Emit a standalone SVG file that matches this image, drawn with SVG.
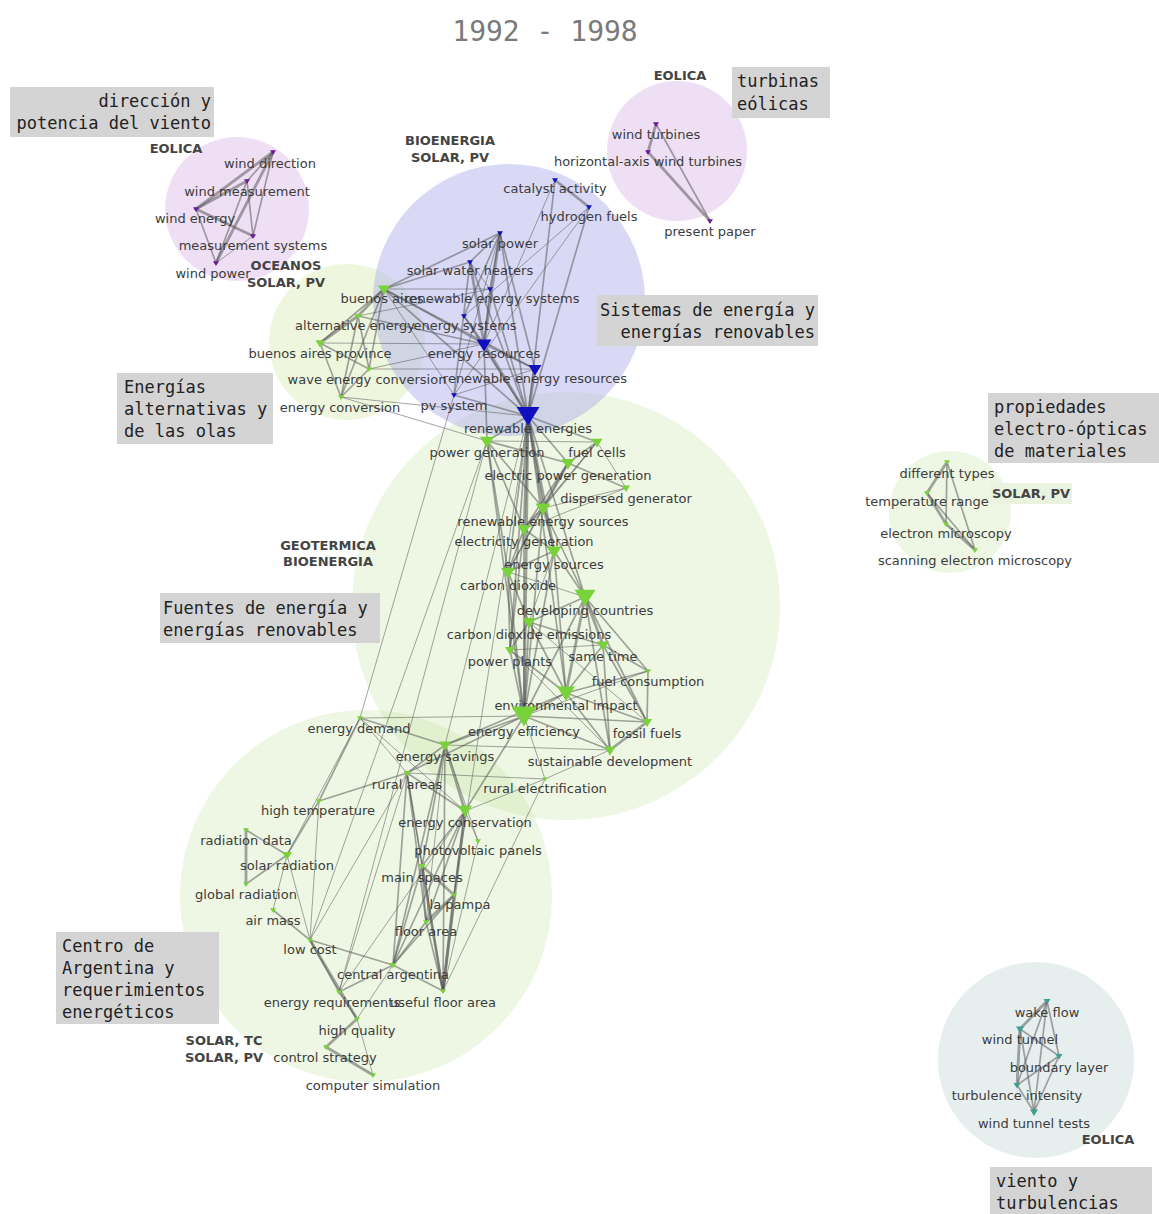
<svg xmlns="http://www.w3.org/2000/svg" xmlns:xlink="http://www.w3.org/1999/xlink" width="1159" height="1214" viewBox="0 0 1159 1214">
<style>
.title{font-family:"DejaVu Sans Mono","Liberation Mono",monospace;font-size:28px;fill:#7a7a7a}
.box{fill:#d4d4d4}
.bt{font-family:"DejaVu Sans Mono","Liberation Mono",monospace;font-size:17px;fill:#222}
.cat{font-family:"DejaVu Sans","Liberation Sans",sans-serif;font-size:13px;font-weight:bold;fill:#444;text-anchor:middle}
.lb{font-family:"DejaVu Sans","Liberation Sans",sans-serif;font-size:13px;fill:#3c3c3c;text-anchor:middle}
.e line{stroke:#555;stroke-opacity:0.52;stroke-linecap:round}
.t{stroke-width:1}
.m{stroke-width:1.7}
.k{stroke-width:2.8}
.pu{fill:#6b1a9a}
.bl{fill:#1010c0}
.gr{fill:#78d23a}
.te{fill:#3f9e92}
</style>
<defs>
<path id="tri" d="M-1,-0.6 L1,-0.6 L0,1 Z"/>
</defs>
<rect width="1159" height="1214" fill="#ffffff"/>
<text class="title" x="545" y="41" text-anchor="middle">1992 - 1998</text>

<g id="clusters">
<circle cx="566" cy="606" r="214" fill="rgb(200,230,170)" fill-opacity="0.33"/>
<circle cx="366" cy="896" r="186" fill="rgb(200,230,170)" fill-opacity="0.33"/>
<circle cx="347" cy="342" r="78" fill="rgb(205,232,160)" fill-opacity="0.35"/>
<circle cx="509" cy="300" r="136" fill="rgb(170,170,235)" fill-opacity="0.45"/>
<circle cx="237" cy="209" r="72" fill="rgb(200,150,220)" fill-opacity="0.3"/>
<circle cx="677" cy="151" r="70" fill="rgb(200,150,220)" fill-opacity="0.3"/>
<circle cx="950" cy="512" r="61" fill="rgb(200,230,170)" fill-opacity="0.33"/>
<circle cx="1036" cy="1060" r="98" fill="#e6efee"/>
</g>

<g id="connectors" class="e">
<line class="m" x1="273" y1="152" x2="247" y2="181"/>
<line class="k" x1="273" y1="152" x2="196" y2="209"/>
<line class="m" x1="273" y1="152" x2="253" y2="236"/>
<line class="k" x1="273" y1="152" x2="216" y2="263"/>
<line class="k" x1="247" y1="181" x2="196" y2="209"/>
<line class="m" x1="247" y1="181" x2="253" y2="236"/>
<line class="m" x1="247" y1="181" x2="216" y2="263"/>
<line class="k" x1="196" y1="209" x2="253" y2="236"/>
<line class="m" x1="196" y1="209" x2="216" y2="263"/>
<line class="t" x1="253" y1="236" x2="216" y2="263"/>
<line class="k" x1="656" y1="124" x2="648" y2="152"/>
<line class="m" x1="656" y1="124" x2="710" y2="221"/>
<line class="k" x1="648" y1="152" x2="710" y2="221"/>
<line class="k" x1="555" y1="180" x2="589" y2="207"/>
<line class="m" x1="555" y1="180" x2="528" y2="416"/>
<line class="t" x1="555" y1="180" x2="484" y2="344"/>
<line class="m" x1="589" y1="207" x2="528" y2="416"/>
<line class="t" x1="589" y1="207" x2="464" y2="316"/>
<line class="t" x1="589" y1="207" x2="454" y2="395"/>
<line class="m" x1="500" y1="233" x2="384" y2="289"/>
<line class="m" x1="500" y1="233" x2="470" y2="262"/>
<line class="m" x1="500" y1="233" x2="490" y2="289"/>
<line class="k" x1="500" y1="233" x2="484" y2="344"/>
<line class="m" x1="500" y1="233" x2="535" y2="369"/>
<line class="m" x1="500" y1="233" x2="528" y2="416"/>
<line class="t" x1="500" y1="233" x2="454" y2="395"/>
<line class="m" x1="500" y1="233" x2="464" y2="316"/>
<line class="m" x1="470" y1="262" x2="384" y2="289"/>
<line class="k" x1="470" y1="262" x2="484" y2="344"/>
<line class="m" x1="470" y1="262" x2="528" y2="416"/>
<line class="m" x1="470" y1="262" x2="454" y2="395"/>
<line class="t" x1="470" y1="262" x2="490" y2="289"/>
<line class="m" x1="490" y1="289" x2="484" y2="344"/>
<line class="m" x1="490" y1="289" x2="528" y2="416"/>
<line class="t" x1="490" y1="289" x2="384" y2="289"/>
<line class="m" x1="464" y1="316" x2="484" y2="344"/>
<line class="m" x1="464" y1="316" x2="528" y2="416"/>
<line class="m" x1="484" y1="344" x2="535" y2="369"/>
<line class="k" x1="484" y1="344" x2="528" y2="416"/>
<line class="m" x1="484" y1="344" x2="487" y2="441"/>
<line class="k" x1="535" y1="369" x2="528" y2="416"/>
<line class="m" x1="535" y1="369" x2="384" y2="289"/>
<line class="m" x1="454" y1="395" x2="528" y2="416"/>
<line class="t" x1="454" y1="395" x2="384" y2="289"/>
<line class="t" x1="535" y1="369" x2="454" y2="395"/>
<line class="k" x1="384" y1="289" x2="358" y2="316"/>
<line class="m" x1="384" y1="289" x2="320" y2="343"/>
<line class="m" x1="384" y1="289" x2="369" y2="369"/>
<line class="m" x1="384" y1="289" x2="341" y2="397"/>
<line class="m" x1="384" y1="289" x2="484" y2="344"/>
<line class="m" x1="384" y1="289" x2="528" y2="416"/>
<line class="k" x1="358" y1="316" x2="320" y2="343"/>
<line class="m" x1="358" y1="316" x2="369" y2="369"/>
<line class="m" x1="358" y1="316" x2="341" y2="397"/>
<line class="m" x1="358" y1="316" x2="484" y2="344"/>
<line class="m" x1="320" y1="343" x2="369" y2="369"/>
<line class="m" x1="320" y1="343" x2="341" y2="397"/>
<line class="t" x1="320" y1="343" x2="484" y2="344"/>
<line class="m" x1="369" y1="369" x2="341" y2="397"/>
<line class="t" x1="369" y1="369" x2="535" y2="369"/>
<line class="t" x1="369" y1="369" x2="484" y2="344"/>
<line class="t" x1="341" y1="397" x2="528" y2="416"/>
<line class="t" x1="341" y1="397" x2="487" y2="441"/>
<line class="t" x1="358" y1="316" x2="490" y2="289"/>
<line class="m" x1="528" y1="416" x2="487" y2="441"/>
<line class="m" x1="528" y1="416" x2="597" y2="442"/>
<line class="m" x1="528" y1="416" x2="568" y2="463"/>
<line class="k" x1="528" y1="416" x2="543" y2="508"/>
<line class="k" x1="528" y1="416" x2="524" y2="529"/>
<line class="k" x1="528" y1="416" x2="554" y2="551"/>
<line class="m" x1="528" y1="416" x2="508" y2="572"/>
<line class="m" x1="528" y1="416" x2="585" y2="597"/>
<line class="k" x1="528" y1="416" x2="524" y2="716"/>
<line class="m" x1="528" y1="416" x2="566" y2="693"/>
<line class="m" x1="528" y1="416" x2="510" y2="650"/>
<line class="t" x1="528" y1="416" x2="445" y2="745"/>
<line class="t" x1="487" y1="441" x2="597" y2="442"/>
<line class="m" x1="487" y1="441" x2="568" y2="463"/>
<line class="m" x1="487" y1="441" x2="543" y2="508"/>
<line class="m" x1="487" y1="441" x2="524" y2="716"/>
<line class="m" x1="487" y1="441" x2="508" y2="572"/>
<line class="m" x1="487" y1="441" x2="524" y2="529"/>
<line class="m" x1="597" y1="442" x2="568" y2="463"/>
<line class="t" x1="597" y1="442" x2="626" y2="488"/>
<line class="m" x1="597" y1="442" x2="543" y2="508"/>
<line class="t" x1="597" y1="442" x2="524" y2="529"/>
<line class="m" x1="568" y1="463" x2="626" y2="488"/>
<line class="k" x1="568" y1="463" x2="543" y2="508"/>
<line class="m" x1="568" y1="463" x2="524" y2="529"/>
<line class="t" x1="568" y1="463" x2="508" y2="572"/>
<line class="t" x1="626" y1="488" x2="543" y2="508"/>
<line class="t" x1="626" y1="488" x2="524" y2="529"/>
<line class="k" x1="543" y1="508" x2="524" y2="529"/>
<line class="m" x1="543" y1="508" x2="554" y2="551"/>
<line class="m" x1="543" y1="508" x2="585" y2="597"/>
<line class="m" x1="543" y1="508" x2="524" y2="716"/>
<line class="m" x1="543" y1="508" x2="508" y2="572"/>
<line class="m" x1="524" y1="529" x2="554" y2="551"/>
<line class="m" x1="524" y1="529" x2="508" y2="572"/>
<line class="m" x1="524" y1="529" x2="510" y2="650"/>
<line class="m" x1="524" y1="529" x2="524" y2="716"/>
<line class="m" x1="554" y1="551" x2="585" y2="597"/>
<line class="m" x1="554" y1="551" x2="508" y2="572"/>
<line class="m" x1="554" y1="551" x2="524" y2="716"/>
<line class="m" x1="554" y1="551" x2="566" y2="693"/>
<line class="t" x1="554" y1="551" x2="529" y2="622"/>
<line class="m" x1="508" y1="572" x2="529" y2="622"/>
<line class="m" x1="508" y1="572" x2="510" y2="650"/>
<line class="m" x1="508" y1="572" x2="524" y2="716"/>
<line class="t" x1="508" y1="572" x2="585" y2="597"/>
<line class="k" x1="585" y1="597" x2="603" y2="645"/>
<line class="m" x1="585" y1="597" x2="529" y2="622"/>
<line class="m" x1="585" y1="597" x2="648" y2="671"/>
<line class="k" x1="585" y1="597" x2="566" y2="693"/>
<line class="m" x1="585" y1="597" x2="524" y2="716"/>
<line class="m" x1="585" y1="597" x2="647" y2="722"/>
<line class="m" x1="585" y1="597" x2="610" y2="750"/>
<line class="m" x1="529" y1="622" x2="510" y2="650"/>
<line class="m" x1="529" y1="622" x2="603" y2="645"/>
<line class="m" x1="529" y1="622" x2="524" y2="716"/>
<line class="m" x1="529" y1="622" x2="566" y2="693"/>
<line class="t" x1="529" y1="622" x2="647" y2="722"/>
<line class="t" x1="510" y1="650" x2="603" y2="645"/>
<line class="m" x1="510" y1="650" x2="566" y2="693"/>
<line class="m" x1="510" y1="650" x2="524" y2="716"/>
<line class="t" x1="510" y1="650" x2="610" y2="750"/>
<line class="m" x1="603" y1="645" x2="648" y2="671"/>
<line class="m" x1="603" y1="645" x2="566" y2="693"/>
<line class="m" x1="603" y1="645" x2="647" y2="722"/>
<line class="m" x1="603" y1="645" x2="610" y2="750"/>
<line class="m" x1="648" y1="671" x2="647" y2="722"/>
<line class="m" x1="648" y1="671" x2="566" y2="693"/>
<line class="t" x1="648" y1="671" x2="524" y2="716"/>
<line class="m" x1="566" y1="693" x2="524" y2="716"/>
<line class="m" x1="566" y1="693" x2="647" y2="722"/>
<line class="m" x1="566" y1="693" x2="610" y2="750"/>
<line class="m" x1="566" y1="693" x2="445" y2="745"/>
<line class="m" x1="524" y1="716" x2="647" y2="722"/>
<line class="m" x1="524" y1="716" x2="610" y2="750"/>
<line class="m" x1="524" y1="716" x2="445" y2="745"/>
<line class="t" x1="524" y1="716" x2="545" y2="779"/>
<line class="t" x1="524" y1="716" x2="360" y2="718"/>
<line class="m" x1="524" y1="716" x2="407" y2="773"/>
<line class="m" x1="524" y1="716" x2="465" y2="811"/>
<line class="k" x1="647" y1="722" x2="610" y2="750"/>
<line class="t" x1="610" y1="750" x2="545" y2="779"/>
<line class="t" x1="610" y1="750" x2="445" y2="745"/>
<line class="m" x1="445" y1="745" x2="360" y2="718"/>
<line class="m" x1="445" y1="745" x2="407" y2="773"/>
<line class="k" x1="445" y1="745" x2="465" y2="811"/>
<line class="t" x1="445" y1="745" x2="478" y2="841"/>
<line class="m" x1="445" y1="745" x2="422" y2="866"/>
<line class="t" x1="445" y1="745" x2="426" y2="922"/>
<line class="m" x1="445" y1="745" x2="393" y2="965"/>
<line class="m" x1="445" y1="745" x2="443" y2="991"/>
<line class="t" x1="545" y1="779" x2="407" y2="773"/>
<line class="t" x1="545" y1="779" x2="465" y2="811"/>
<line class="m" x1="360" y1="718" x2="319" y2="801"/>
<line class="t" x1="360" y1="718" x2="407" y2="773"/>
<line class="t" x1="360" y1="718" x2="465" y2="811"/>
<line class="m" x1="407" y1="773" x2="319" y2="801"/>
<line class="m" x1="407" y1="773" x2="465" y2="811"/>
<line class="t" x1="407" y1="773" x2="422" y2="866"/>
<line class="m" x1="407" y1="773" x2="426" y2="922"/>
<line class="m" x1="407" y1="773" x2="393" y2="965"/>
<line class="m" x1="407" y1="773" x2="443" y2="991"/>
<line class="t" x1="407" y1="773" x2="310" y2="940"/>
<line class="t" x1="407" y1="773" x2="339" y2="992"/>
<line class="m" x1="319" y1="801" x2="287" y2="855"/>
<line class="t" x1="319" y1="801" x2="310" y2="940"/>
<line class="m" x1="246" y1="830" x2="287" y2="855"/>
<line class="k" x1="246" y1="830" x2="246" y2="884"/>
<line class="m" x1="287" y1="855" x2="246" y2="884"/>
<line class="t" x1="287" y1="855" x2="273" y2="910"/>
<line class="t" x1="287" y1="855" x2="310" y2="940"/>
<line class="m" x1="273" y1="910" x2="310" y2="940"/>
<line class="m" x1="310" y1="940" x2="393" y2="965"/>
<line class="m" x1="310" y1="940" x2="339" y2="992"/>
<line class="k" x1="310" y1="940" x2="357" y2="1019"/>
<line class="t" x1="465" y1="811" x2="478" y2="841"/>
<line class="m" x1="465" y1="811" x2="422" y2="866"/>
<line class="m" x1="465" y1="811" x2="454" y2="895"/>
<line class="m" x1="465" y1="811" x2="426" y2="922"/>
<line class="m" x1="465" y1="811" x2="393" y2="965"/>
<line class="k" x1="465" y1="811" x2="443" y2="991"/>
<line class="t" x1="465" y1="811" x2="339" y2="992"/>
<line class="k" x1="422" y1="866" x2="454" y2="895"/>
<line class="m" x1="422" y1="866" x2="426" y2="922"/>
<line class="m" x1="422" y1="866" x2="393" y2="965"/>
<line class="k" x1="422" y1="866" x2="443" y2="991"/>
<line class="k" x1="454" y1="895" x2="426" y2="922"/>
<line class="m" x1="454" y1="895" x2="393" y2="965"/>
<line class="k" x1="454" y1="895" x2="443" y2="991"/>
<line class="m" x1="426" y1="922" x2="393" y2="965"/>
<line class="m" x1="426" y1="922" x2="443" y2="991"/>
<line class="m" x1="393" y1="965" x2="339" y2="992"/>
<line class="m" x1="393" y1="965" x2="443" y2="991"/>
<line class="t" x1="393" y1="965" x2="357" y2="1019"/>
<line class="m" x1="339" y1="992" x2="357" y2="1019"/>
<line class="k" x1="357" y1="1019" x2="326" y2="1047"/>
<line class="t" x1="357" y1="1019" x2="373" y2="1075"/>
<line class="k" x1="326" y1="1047" x2="373" y2="1075"/>
<line class="t" x1="454" y1="395" x2="360" y2="718"/>
<line class="t" x1="487" y1="441" x2="310" y2="940"/>
<line class="t" x1="487" y1="441" x2="339" y2="992"/>
<line class="t" x1="478" y1="841" x2="443" y2="991"/>
<line class="t" x1="528" y1="416" x2="454" y2="895"/>
<line class="t" x1="360" y1="718" x2="287" y2="855"/>
<line class="t" x1="545" y1="779" x2="443" y2="991"/>
<line class="k" x1="947" y1="462" x2="927" y2="493"/>
<line class="m" x1="947" y1="462" x2="946" y2="524"/>
<line class="m" x1="947" y1="462" x2="975" y2="550"/>
<line class="k" x1="927" y1="493" x2="946" y2="524"/>
<line class="m" x1="927" y1="493" x2="975" y2="550"/>
<line class="k" x1="946" y1="524" x2="975" y2="550"/>
<line class="k" x1="1047" y1="1001" x2="1020" y2="1029"/>
<line class="m" x1="1047" y1="1001" x2="1059" y2="1056"/>
<line class="m" x1="1047" y1="1001" x2="1017" y2="1085"/>
<line class="m" x1="1047" y1="1001" x2="1034" y2="1112"/>
<line class="m" x1="1020" y1="1029" x2="1059" y2="1056"/>
<line class="k" x1="1020" y1="1029" x2="1017" y2="1085"/>
<line class="m" x1="1020" y1="1029" x2="1034" y2="1112"/>
<line class="m" x1="1059" y1="1056" x2="1017" y2="1085"/>
<line class="m" x1="1059" y1="1056" x2="1034" y2="1112"/>
<line class="m" x1="1017" y1="1085" x2="1034" y2="1112"/>
</g>

<g id="nodes">
<g id="n-wind-direction"><use href="#tri" class="pu" transform="translate(273,152) scale(3)"/><text class="lb" x="270" y="168">wind direction</text></g>
<g id="n-wind-measurement"><use href="#tri" class="pu" transform="translate(247,181) scale(3)"/><text class="lb" x="247" y="196">wind measurement</text></g>
<g id="n-wind-energy"><use href="#tri" class="pu" transform="translate(196,209) scale(3)"/><text class="lb" x="195" y="223">wind energy</text></g>
<g id="n-measurement-systems"><use href="#tri" class="pu" transform="translate(253,236) scale(3)"/><text class="lb" x="253" y="250">measurement systems</text></g>
<g id="n-wind-power"><use href="#tri" class="pu" transform="translate(216,263) scale(3)"/><text class="lb" x="213" y="278">wind power</text></g>

<g id="n-wind-turbines"><use href="#tri" class="pu" transform="translate(656,124) scale(3)"/><text class="lb" x="656" y="139">wind turbines</text></g>
<g id="n-horizontal-axis"><use href="#tri" class="pu" transform="translate(648,152) scale(3)"/><text class="lb" x="648" y="166">horizontal-axis wind turbines</text></g>
<g id="n-present-paper"><use href="#tri" class="pu" transform="translate(710,221) scale(3)"/><text class="lb" x="710" y="236">present paper</text></g>

<g id="n-catalyst-activity"><use href="#tri" class="bl" transform="translate(555,180) scale(3)"/><text class="lb" x="555" y="193">catalyst activity</text></g>
<g id="n-hydrogen-fuels"><use href="#tri" class="bl" transform="translate(589,207) scale(3)"/><text class="lb" x="589" y="221">hydrogen fuels</text></g>
<g id="n-solar-power"><use href="#tri" class="bl" transform="translate(500,233) scale(3)"/><text class="lb" x="500" y="248">solar power</text></g>
<g id="n-solar-water-heaters"><use href="#tri" class="bl" transform="translate(470,262) scale(3)"/><text class="lb" x="470" y="275">solar water heaters</text></g>
<g id="n-renewable-energy-systems"><use href="#tri" class="bl" transform="translate(490,289) scale(3)"/><text class="lb" x="492" y="303">renewable energy systems</text></g>
<g id="n-energy-systems"><use href="#tri" class="bl" transform="translate(464,316) scale(3)"/><text class="lb" x="465" y="330">energy systems</text></g>
<g id="n-energy-resources"><use href="#tri" class="bl" transform="translate(484,344) scale(7.5)"/><text class="lb" x="484" y="358">energy resources</text></g>
<g id="n-renewable-energy-resources"><use href="#tri" class="bl" transform="translate(535,369) scale(6.5)"/><text class="lb" x="535" y="383">renewable energy resources</text></g>
<g id="n-pv-system"><use href="#tri" class="bl" transform="translate(454,395) scale(3)"/><text class="lb" x="454" y="410">pv system</text></g>
<g id="n-renewable-energies"><use href="#tri" class="bl" transform="translate(528,414) scale(11.5)"/><text class="lb" x="528" y="433">renewable energies</text></g>

<g id="n-buenos-aires"><use href="#tri" class="gr" transform="translate(384,289) scale(6)"/><text class="lb" x="382" y="303">buenos aires</text></g>
<g id="n-alternative-energy"><use href="#tri" class="gr" transform="translate(358,316) scale(3.5)"/><text class="lb" x="355" y="330">alternative energy</text></g>
<g id="n-buenos-aires-province"><use href="#tri" class="gr" transform="translate(320,343) scale(4.5)"/><text class="lb" x="320" y="358">buenos aires province</text></g>
<g id="n-wave-energy-conversion"><use href="#tri" class="gr" transform="translate(369,369) scale(3)"/><text class="lb" x="367" y="384">wave energy conversion</text></g>
<g id="n-energy-conversion"><use href="#tri" class="gr" transform="translate(341,397) scale(3)"/><text class="lb" x="340" y="412">energy conversion</text></g>

<g id="n-power-generation"><use href="#tri" class="gr" transform="translate(487,441) scale(7)"/><text class="lb" x="487" y="457">power generation</text></g>
<g id="n-fuel-cells"><use href="#tri" class="gr" transform="translate(597,442) scale(5.5)"/><text class="lb" x="597" y="457">fuel cells</text></g>
<g id="n-electric-power-generation"><use href="#tri" class="gr" transform="translate(568,463) scale(6.5)"/><text class="lb" x="568" y="480">electric power generation</text></g>
<g id="n-dispersed-generator"><use href="#tri" class="gr" transform="translate(626,488) scale(4)"/><text class="lb" x="626" y="503">dispersed generator</text></g>
<g id="n-renewable-energy-sources"><use href="#tri" class="gr" transform="translate(543,508) scale(7.5)"/><text class="lb" x="543" y="526">renewable energy sources</text></g>
<g id="n-electricity-generation"><use href="#tri" class="gr" transform="translate(524,529) scale(6.5)"/><text class="lb" x="524" y="546">electricity generation</text></g>
<g id="n-energy-sources"><use href="#tri" class="gr" transform="translate(554,551) scale(7.5)"/><text class="lb" x="554" y="569">energy sources</text></g>
<g id="n-carbon-dioxide"><use href="#tri" class="gr" transform="translate(508,572) scale(7)"/><text class="lb" x="508" y="590">carbon dioxide</text></g>
<g id="n-developing-countries"><use href="#tri" class="gr" transform="translate(585,596) scale(10.5)"/><text class="lb" x="585" y="615">developing countries</text></g>
<g id="n-carbon-dioxide-emissions"><use href="#tri" class="gr" transform="translate(529,622) scale(6.5)"/><text class="lb" x="529" y="639">carbon dioxide emissions</text></g>
<g id="n-power-plants"><use href="#tri" class="gr" transform="translate(510,650) scale(5)"/><text class="lb" x="510" y="666">power plants</text></g>
<g id="n-same-time"><use href="#tri" class="gr" transform="translate(603,645) scale(6)"/><text class="lb" x="603" y="661">same time</text></g>
<g id="n-fuel-consumption"><use href="#tri" class="gr" transform="translate(648,671) scale(3)"/><text class="lb" x="648" y="686">fuel consumption</text></g>
<g id="n-environmental-impact"><use href="#tri" class="gr" transform="translate(566,692) scale(9)"/><text class="lb" x="566" y="710">environmental impact</text></g>
<g id="n-energy-efficiency"><use href="#tri" class="gr" transform="translate(524,714) scale(12.5)"/><text class="lb" x="524" y="736">energy efficiency</text></g>
<g id="n-fossil-fuels"><use href="#tri" class="gr" transform="translate(647,722) scale(5)"/><text class="lb" x="647" y="738">fossil fuels</text></g>
<g id="n-sustainable-development"><use href="#tri" class="gr" transform="translate(610,750) scale(5.5)"/><text class="lb" x="610" y="766">sustainable development</text></g>
<g id="n-rural-electrification"><use href="#tri" class="gr" transform="translate(545,779) scale(2.5)"/><text class="lb" x="545" y="793">rural electrification</text></g>
<g id="n-energy-savings"><use href="#tri" class="gr" transform="translate(445,745) scale(6)"/><text class="lb" x="445" y="761">energy savings</text></g>

<g id="n-energy-demand"><use href="#tri" class="gr" transform="translate(360,718) scale(3)"/><text class="lb" x="359" y="733">energy demand</text></g>
<g id="n-rural-areas"><use href="#tri" class="gr" transform="translate(407,773) scale(3.5)"/><text class="lb" x="407" y="789">rural areas</text></g>
<g id="n-high-temperature"><use href="#tri" class="gr" transform="translate(319,801) scale(3)"/><text class="lb" x="318" y="815">high temperature</text></g>
<g id="n-energy-conservation"><use href="#tri" class="gr" transform="translate(465,810) scale(7)"/><text class="lb" x="465" y="827">energy conservation</text></g>
<g id="n-photovoltaic-panels"><use href="#tri" class="gr" transform="translate(478,841) scale(3)"/><text class="lb" x="478" y="855">photovoltaic panels</text></g>
<g id="n-radiation-data"><use href="#tri" class="gr" transform="translate(246,830) scale(3)"/><text class="lb" x="246" y="845">radiation data</text></g>
<g id="n-solar-radiation"><use href="#tri" class="gr" transform="translate(287,855) scale(5)"/><text class="lb" x="287" y="870">solar radiation</text></g>
<g id="n-main-spaces"><use href="#tri" class="gr" transform="translate(422,866) scale(3.5)"/><text class="lb" x="422" y="882">main spaces</text></g>
<g id="n-global-radiation"><use href="#tri" class="gr" transform="translate(246,884) scale(3)"/><text class="lb" x="246" y="899">global radiation</text></g>
<g id="n-la-pampa"><use href="#tri" class="gr" transform="translate(454,895) scale(3)"/><text class="lb" x="460" y="909">la pampa</text></g>
<g id="n-air-mass"><use href="#tri" class="gr" transform="translate(273,910) scale(3)"/><text class="lb" x="273" y="925">air mass</text></g>
<g id="n-floor-area"><use href="#tri" class="gr" transform="translate(426,922) scale(3)"/><text class="lb" x="426" y="936">floor area</text></g>
<g id="n-low-cost"><use href="#tri" class="gr" transform="translate(310,940) scale(3)"/><text class="lb" x="310" y="954">low cost</text></g>
<g id="n-central-argentina"><use href="#tri" class="gr" transform="translate(393,965) scale(3.5)"/><text class="lb" x="393" y="979">central argentina</text></g>
<g id="n-energy-requirements"><use href="#tri" class="gr" transform="translate(339,992) scale(3)"/><text class="lb" x="332" y="1007">energy requirements</text></g>
<g id="n-useful-floor-area"><use href="#tri" class="gr" transform="translate(443,991) scale(3)"/><text class="lb" x="443" y="1007">useful floor area</text></g>
<g id="n-high-quality"><use href="#tri" class="gr" transform="translate(357,1019) scale(3)"/><text class="lb" x="357" y="1035">high quality</text></g>
<g id="n-control-strategy"><use href="#tri" class="gr" transform="translate(326,1047) scale(3)"/><text class="lb" x="325" y="1062">control strategy</text></g>
<g id="n-computer-simulation"><use href="#tri" class="gr" transform="translate(373,1075) scale(3)"/><text class="lb" x="373" y="1090">computer simulation</text></g>

<g id="n-different-types"><use href="#tri" class="gr" transform="translate(947,462) scale(3)"/><text class="lb" x="947" y="478">different types</text></g>
<g id="n-temperature-range"><use href="#tri" class="gr" transform="translate(927,493) scale(3)"/><text class="lb" x="927" y="506">temperature range</text></g>
<g id="n-electron-microscopy"><use href="#tri" class="gr" transform="translate(946,524) scale(3)"/><text class="lb" x="946" y="538">electron microscopy</text></g>
<g id="n-scanning-electron-microscopy"><use href="#tri" class="gr" transform="translate(975,550) scale(3)"/><text class="lb" x="975" y="565">scanning electron microscopy</text></g>

<g id="n-wake-flow"><use href="#tri" class="te" transform="translate(1047,1001) scale(3.5)"/><text class="lb" x="1047" y="1017">wake flow</text></g>
<g id="n-wind-tunnel"><use href="#tri" class="te" transform="translate(1020,1029) scale(4)"/><text class="lb" x="1020" y="1044">wind tunnel</text></g>
<g id="n-boundary-layer"><use href="#tri" class="te" transform="translate(1059,1056) scale(3.5)"/><text class="lb" x="1059" y="1072">boundary layer</text></g>
<g id="n-turbulence-intensity"><use href="#tri" class="te" transform="translate(1017,1085) scale(3.5)"/><text class="lb" x="1017" y="1100">turbulence intensity</text></g>
<g id="n-wind-tunnel-tests"><use href="#tri" class="te" transform="translate(1034,1112) scale(4)"/><text class="lb" x="1034" y="1128">wind tunnel tests</text></g>
</g>

<g id="categories">
<text class="cat" x="176" y="153">EOLICA</text>
<text class="cat" x="680" y="80">EOLICA</text>
<text class="cat" x="450" y="145">BIOENERGIA</text>
<text class="cat" x="450" y="162">SOLAR, PV</text>
<text class="cat" x="286" y="270">OCEANOS</text>
<text class="cat" x="286" y="287">SOLAR, PV</text>
<text class="cat" x="328" y="550">GEOTERMICA</text>
<text class="cat" x="328" y="566">BIOENERGIA</text>
<text class="cat" x="224" y="1045">SOLAR, TC</text>
<text class="cat" x="224" y="1062">SOLAR, PV</text>
<rect x="990" y="483" width="82" height="21" fill="#e9f3df"/>
<text class="cat" x="1031" y="498">SOLAR, PV</text>
<text class="cat" x="1108" y="1144">EOLICA</text>
</g>

<g id="notes">
<rect class="box" x="10" y="87" width="204" height="50"/>
<text class="bt" text-anchor="end"><tspan x="211" y="107">dirección y</tspan><tspan x="211" y="129">potencia del viento</tspan></text>
<rect class="box" x="732" y="67" width="98" height="51"/>
<text class="bt"><tspan x="737" y="87">turbinas</tspan><tspan x="737" y="110">eólicas</tspan></text>
<rect class="box" x="597" y="295" width="221" height="51"/>
<text class="bt" text-anchor="end"><tspan x="815" y="316">Sistemas de energía y</tspan><tspan x="815" y="338">energías renovables</tspan></text>
<rect class="box" x="117" y="373" width="156" height="71"/>
<text class="bt"><tspan x="124" y="393">Energías</tspan><tspan x="124" y="415">alternativas y</tspan><tspan x="124" y="437">de las olas</tspan></text>
<rect class="box" x="160" y="593" width="220" height="50"/>
<text class="bt"><tspan x="163" y="614">Fuentes de energía y</tspan><tspan x="163" y="636">energías renovables</tspan></text>
<rect class="box" x="56" y="932" width="163" height="92"/>
<text class="bt"><tspan x="62" y="952">Centro de</tspan><tspan x="62" y="974">Argentina y</tspan><tspan x="62" y="996">requerimientos</tspan><tspan x="62" y="1018">energéticos</tspan></text>
<rect class="box" x="988" y="393" width="171" height="70"/>
<text class="bt"><tspan x="994" y="413">propiedades</tspan><tspan x="994" y="435">electro-ópticas</tspan><tspan x="994" y="457">de materiales</tspan></text>
<rect class="box" x="990" y="1167" width="162" height="47"/>
<text class="bt"><tspan x="996" y="1187">viento y</tspan><tspan x="996" y="1209">turbulencias</tspan></text>
</g>
</svg>
